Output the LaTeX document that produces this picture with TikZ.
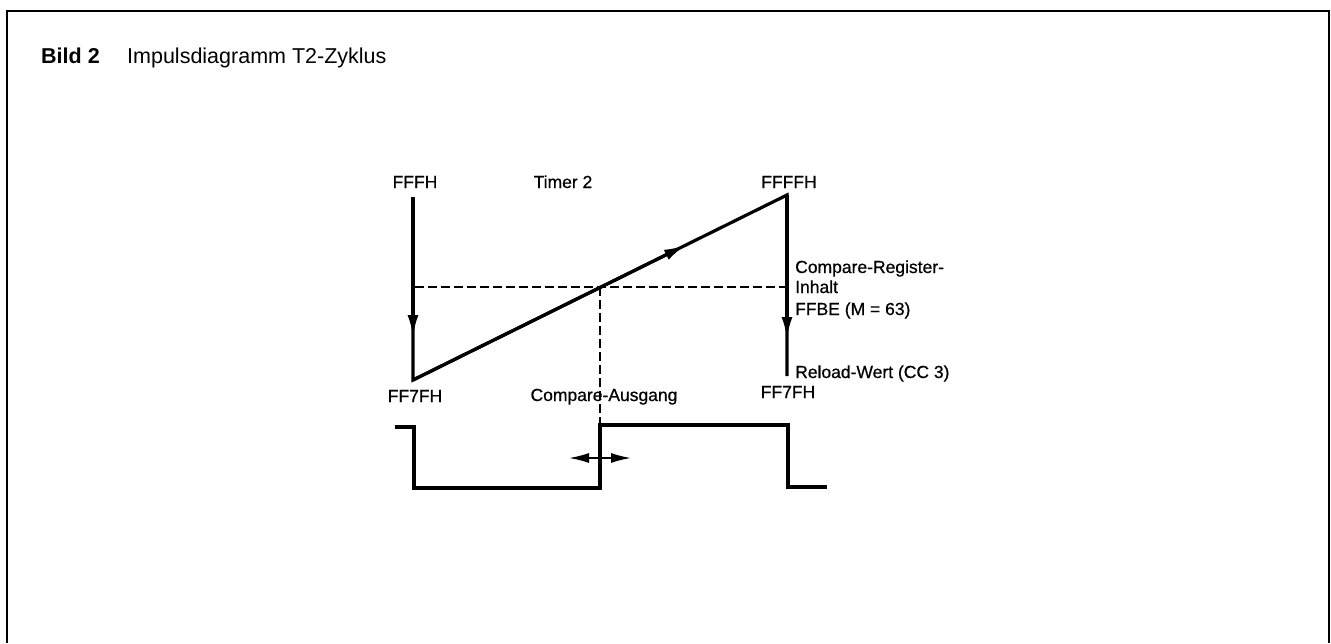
\documentclass[tikz,border=0pt]{standalone}
\usepackage{fontspec}
\setmainfont{Liberation Sans}
\newfontfamily\dinfont[FakeBold=0.6]{Liberation Sans}
\usetikzlibrary{arrows.meta}
\begin{document}
\begin{tikzpicture}[x=1pt,y=-1pt,
  lbl/.style={inner sep=0pt,font=\dinfont\fontsize{17.5}{20}\selectfont},
  heavy/.style={line width=3.2pt,line join=miter},
  dashline/.style={line width=1.6pt,dash pattern=on 9pt off 4pt},
  arrowtip/.style={-{Latex[length=22pt,width=11pt]}},
  frame/.style={line width=2pt}]
\useasboundingbox (0,0) rectangle (1331,643);
% frame
\coordinate (fbl) at (7,643);
\coordinate (ftl) at (7,11);
\coordinate (ftr) at (1329,11);
\coordinate (fbr) at (1329,643);
\draw[frame] (fbl) -- (ftl) -- (ftr) -- (fbr);
% title
\node[anchor=base west,inner sep=0pt,font=\fontsize{21.5}{24}\selectfont\bfseries] (bild) at (41,63) {Bild 2};
\node[anchor=base west,inner sep=0pt,font=\fontsize{21.5}{24}\selectfont] (titel) at (127,63) {Impulsdiagramm T2-Zyklus};
% key points
\coordinate (Ltop) at (413,197);
\coordinate (Lbot) at (413,380);
\coordinate (Larr) at (413,337);
\coordinate (Rtop) at (787,195);
\coordinate (Rbot) at (787,376);
\coordinate (Rarr) at (787,339);
\coordinate (Rampar) at (686,245);
\coordinate (DH1) at (415,287);
\coordinate (DH2) at (787,287);
\coordinate (DVt) at (600,287);
\coordinate (DVb) at (600,425);
% sawtooth
\draw[heavy] (Ltop) -- (Lbot) -- (Rtop) -- (Rbot);
\draw[heavy,arrowtip] (Ltop) -- (Larr);
\draw[heavy,arrowtip] (Rtop) -- (Rarr);
\draw[heavy,arrowtip] (Lbot) -- (Rampar);
% dashed
\draw[dashline] (DH1) -- (DH2);
\draw[dashline] (DVt) -- (DVb);
% pulse
\coordinate (P0) at (395,427);
\coordinate (P1) at (414,427);
\coordinate (P2) at (414,488);
\coordinate (P3) at (600,488);
\coordinate (P4) at (600,425);
\coordinate (P5) at (788,425);
\coordinate (P6) at (788,487);
\coordinate (P7) at (827,487);
\draw[heavy] (P0) -- (P1) -- (P2) -- (P3) -- (P4) -- (P5) -- (P6) -- (P7);
% double arrow
\coordinate (DA1) at (569,458);
\coordinate (DA2) at (631,458);
\draw[line width=1.6pt,{Latex[length=20pt,width=10pt]}-{Latex[length=20pt,width=10pt]}] (DA1) -- (DA2);
% labels
\node[lbl,anchor=base] (fffh) at (415,188) {FFFH};
\node[lbl,anchor=base] (timer) at (563,188) {Timer 2};
\node[lbl,anchor=base] (ffffh) at (789,188) {FFFFH};
\node[lbl,anchor=base west] (cr1) at (795,273) {Compare-Register-};
\node[lbl,anchor=base west] (cr2) at (795,293) {Inhalt};
\node[lbl,anchor=base west] (cr3) at (795,315) {FFBE (M = 63)};
\node[lbl,anchor=base west] (rel) at (795,378) {Reload-Wert (CC 3)};
\node[lbl,anchor=base] (ff7l) at (415,402) {FF7FH};
\node[lbl,anchor=base] (ff7r) at (788,398) {FF7FH};
\node[lbl,anchor=base] (cmp) at (604,401) {Compare-Ausgang};
\end{tikzpicture}
\end{document}
